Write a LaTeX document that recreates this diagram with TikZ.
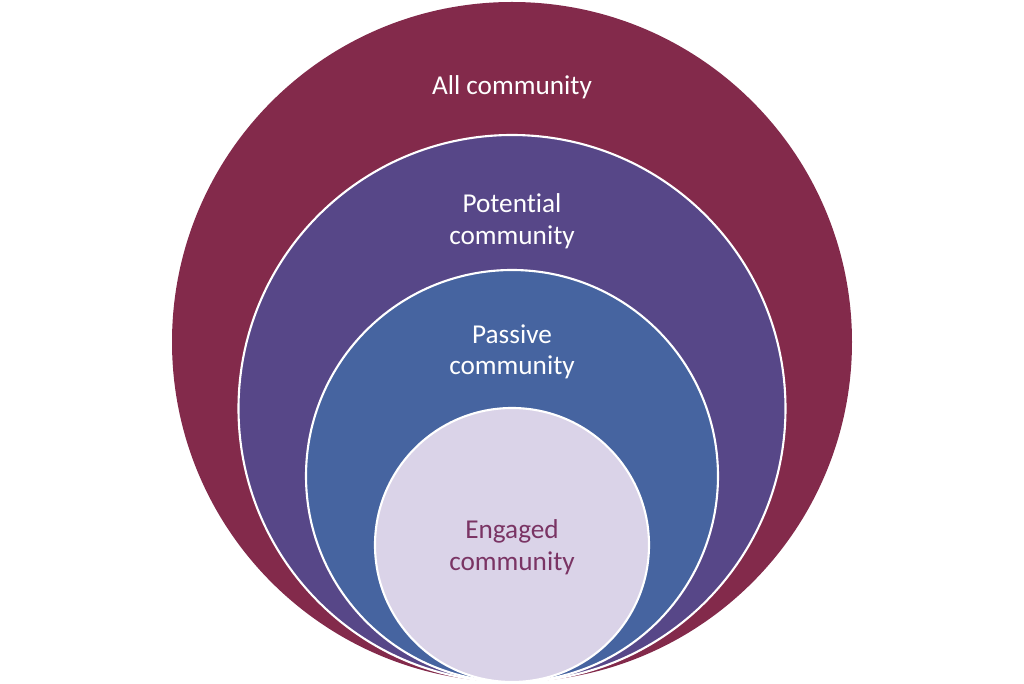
\documentclass[tikz,border=0pt]{standalone}
\usepackage{fontspec}
\setmainfont[Ligatures=NoCommon]{Carlito}
\definecolor{allred}{RGB}{131,42,75}
\definecolor{potpurple}{RGB}{87,71,136}
\definecolor{passblue}{RGB}{70,100,160}
\definecolor{englilac}{RGB}{218,211,232}
\definecolor{engtext}{RGB}{122,52,100}
\tikzset{ring/.style={draw=white,line width=1.2pt},
         lbl/.style={text=white,align=center,font=\fontsize{15.5}{18}\selectfont}}

\begin{document}
\begin{tikzpicture}
\useasboundingbox (0,0) rectangle (20.48,13.68);
\fill[allred] (10.24,6.84) circle (6.8);
\draw[ring,fill=potpurple] (10.24,5.51) circle (5.47);
\draw[ring,fill=passblue] (10.24,4.16) circle (4.12);
\draw[ring,fill=englilac] (10.24,2.78) circle (2.74);
\node[lbl] (all) at (10.24,11.94) {All community};
\node[lbl] (potential) at (10.24,9.26) {Potential\\community};
\node[lbl] (passive) at (10.24,6.64) {Passive\\community};
\node[lbl,text=engtext] (engaged) at (10.24,2.74) {Engaged\\community};
\end{tikzpicture}
\end{document}
